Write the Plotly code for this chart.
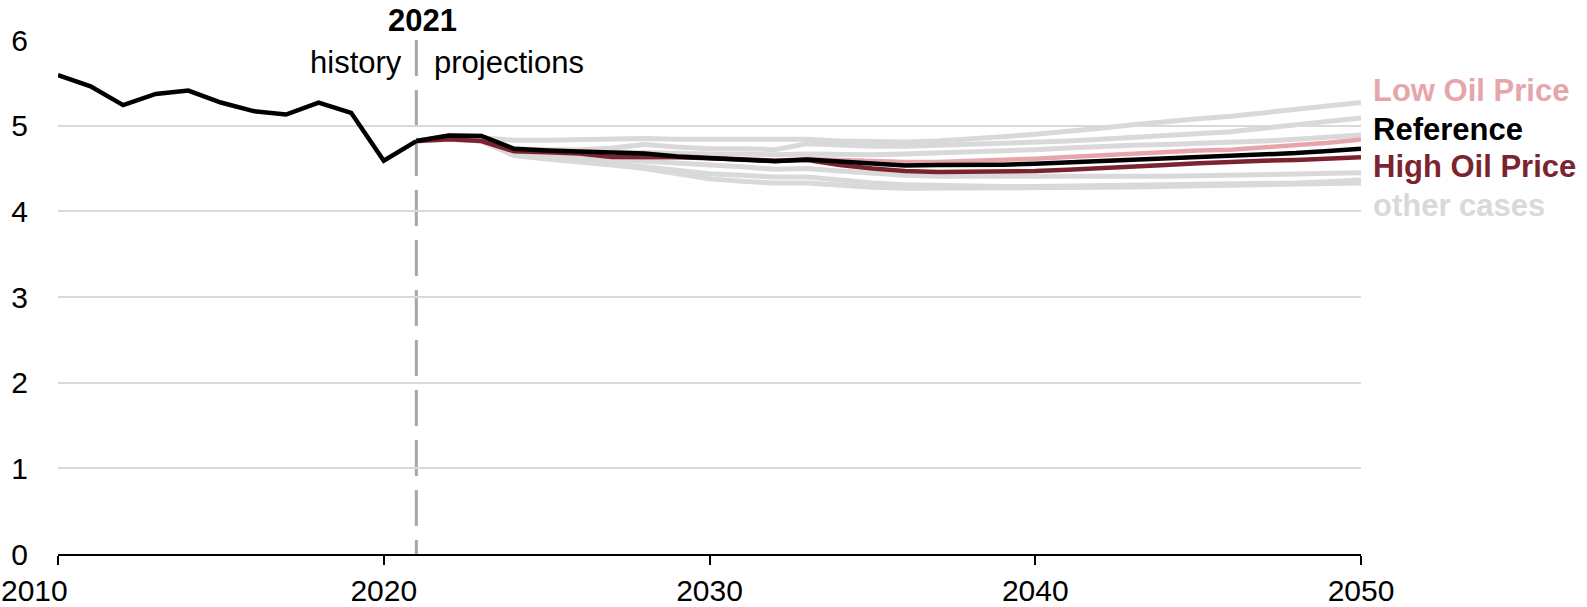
import plotly.graph_objects as go

years_hist = list(range(2010, 2022))
hist = [5.59, 5.46, 5.24, 5.37, 5.41, 5.27, 5.17, 5.13, 5.27, 5.15, 4.59, 4.82]

years_proj = list(range(2021, 2051))
reference = [4.82, 4.885, 4.88, 4.73, 4.71, 4.70, 4.68, 4.675, 4.64, 4.62,
             4.605, 4.585, 4.605, 4.58, 4.55, 4.535, 4.54, 4.54, 4.545, 4.555,
             4.57, 4.585, 4.595, 4.61, 4.625, 4.64, 4.66, 4.68, 4.705, 4.73]
low_oil = [4.82, 4.885, 4.88, 4.73, 4.71, 4.70, 4.68, 4.675, 4.645, 4.625,
           4.61, 4.59, 4.61, 4.60, 4.58, 4.575, 4.575, 4.585, 4.605, 4.615,
           4.635, 4.655, 4.68, 4.70, 4.71, 4.72, 4.745, 4.77, 4.80, 4.84]
high_oil = [4.82, 4.84, 4.82, 4.70, 4.69, 4.675, 4.635, 4.635, 4.63, 4.62,
            4.605, 4.59, 4.60, 4.54, 4.50, 4.47, 4.46, 4.46, 4.46, 4.47,
            4.485, 4.50, 4.52, 4.54, 4.56, 4.58, 4.59, 4.60, 4.615, 4.63]
other_cases = [
    [4.82, 4.87, 4.86, 4.83, 4.83, 4.84, 4.84, 4.85, 4.84, 4.84,
     4.84, 4.84, 4.84, 4.82, 4.81, 4.81, 4.82, 4.84, 4.87, 4.90,
     4.93, 4.97, 5.01, 5.05, 5.08, 5.11, 5.15, 5.19, 5.23, 5.27],
    [4.82, 4.87, 4.86, 4.73, 4.72, 4.72, 4.74, 4.78, 4.75, 4.73,
     4.73, 4.72, 4.79, 4.77, 4.76, 4.76, 4.77, 4.78, 4.80, 4.81,
     4.82, 4.84, 4.86, 4.89, 4.91, 4.93, 4.97, 5.01, 5.05, 5.09],
    [4.82, 4.86, 4.85, 4.72, 4.71, 4.70, 4.69, 4.69, 4.68, 4.67,
     4.67, 4.66, 4.67, 4.66, 4.66, 4.67, 4.68, 4.69, 4.70, 4.72,
     4.74, 4.76, 4.77, 4.78, 4.79, 4.80, 4.82, 4.84, 4.86, 4.89],
    [4.82, 4.85, 4.84, 4.68, 4.65, 4.63, 4.60, 4.58, 4.56, 4.55,
     4.52, 4.49, 4.50, 4.47, 4.44, 4.42, 4.41, 4.41, 4.40, 4.40,
     4.40, 4.40, 4.41, 4.41, 4.415, 4.42, 4.425, 4.43, 4.44, 4.45],
    [4.82, 4.84, 4.82, 4.66, 4.62, 4.59, 4.55, 4.52, 4.48, 4.44,
     4.42, 4.40, 4.40, 4.36, 4.33, 4.31, 4.30, 4.30, 4.29, 4.29,
     4.295, 4.30, 4.30, 4.30, 4.305, 4.31, 4.32, 4.33, 4.345, 4.365],
    [4.82, 4.84, 4.82, 4.65, 4.61, 4.58, 4.54, 4.50, 4.44, 4.38,
     4.35, 4.33, 4.33, 4.30, 4.28, 4.27, 4.27, 4.27, 4.27, 4.27,
     4.275, 4.28, 4.285, 4.29, 4.295, 4.30, 4.305, 4.31, 4.32, 4.33],
]

x_ticks = [2010, 2020, 2030, 2040, 2050]
y_ticks = [0, 1, 2, 3, 4, 5, 6]

GRAY = "#d9d9d9"
PINK = "#e6a5ab"
DARKRED = "#7b2430"
FONT = "Liberation Sans, Arial, sans-serif"
TICK_SIZE = 30
ANN_SIZE = 31
LAB_SIZE = 31

fig = go.Figure()

for oc in other_cases:
    fig.add_trace(go.Scatter(x=years_proj, y=oc, mode="lines",
                             line=dict(color=GRAY, width=5), hoverinfo="skip",
                             showlegend=False))

fig.add_trace(go.Scatter(x=years_proj, y=low_oil, mode="lines",
                         line=dict(color=PINK, width=4.5), showlegend=False))
fig.add_trace(go.Scatter(x=years_proj, y=high_oil, mode="lines",
                         line=dict(color=DARKRED, width=4.5), showlegend=False))
fig.add_trace(go.Scatter(x=years_proj, y=reference, mode="lines",
                         line=dict(color="black", width=4.5), showlegend=False))
fig.add_trace(go.Scatter(x=years_hist, y=hist, mode="lines",
                         line=dict(color="black", width=4.5), showlegend=False))

# history / projections divider
fig.add_shape(type="line", x0=2021, x1=2021, y0=6, y1=0, xref="x", yref="y",
              line=dict(color="#a6a6a6", width=3, dash="36px,14px"), layer="below")

annotations = [
    dict(x=2021, y=1.0, yref="paper", xref="x", text="<b>2021</b>",
         showarrow=False, yanchor="middle", yshift=20, xshift=6,
         font=dict(size=ANN_SIZE, color="black")),
    dict(x=2021, y=5.743, xref="x", yref="y", text="history", showarrow=False,
         xanchor="right", xshift=-12, font=dict(size=ANN_SIZE, color="black")),
    dict(x=2021, y=5.743, xref="x", yref="y", text="projections", showarrow=False,
         xanchor="left", xshift=16, font=dict(size=ANN_SIZE, color="black")),
    dict(x=2050, y=5.416, xref="x", yref="y", text="<b>Low Oil Price</b>", showarrow=False,
         xanchor="left", xshift=10, font=dict(size=LAB_SIZE, color=PINK)),
    dict(x=2050, y=4.955, xref="x", yref="y", text="<b>Reference</b>", showarrow=False,
         xanchor="left", xshift=10, font=dict(size=LAB_SIZE, color="black")),
    dict(x=2050, y=4.529, xref="x", yref="y", text="<b>High Oil Price</b>", showarrow=False,
         xanchor="left", xshift=10, font=dict(size=LAB_SIZE, color=DARKRED)),
    dict(x=2050, y=4.068, xref="x", yref="y", text="<b>other cases</b>", showarrow=False,
         xanchor="left", xshift=10, font=dict(size=LAB_SIZE, color=GRAY)),
    # first x tick label sits flush with the left edge
    dict(x=0, y=0, xref="paper", yref="paper", text=str(x_ticks[0]), showarrow=False,
         xanchor="left", yanchor="middle", xshift=-59, yshift=-36,
         font=dict(size=TICK_SIZE, color="black")),
]

fig.update_layout(
    width=1587, height=607,
    margin=dict(l=58, r=226, t=40, b=53),
    paper_bgcolor="white", plot_bgcolor="white",
    font=dict(family=FONT, size=TICK_SIZE, color="black"),
    annotations=annotations,
    xaxis=dict(range=[2010, 2050], tickvals=x_ticks,
               ticktext=[""] + [str(v) for v in x_ticks[1:]],
               showgrid=False, zeroline=False, showline=True, linecolor="black",
               linewidth=2, ticks="outside", ticklen=9, tickwidth=1.5, tickcolor="black",
               automargin=False,
               tickfont=dict(size=TICK_SIZE, color="black")),
    yaxis=dict(range=[0, 6], tickvals=y_ticks, showgrid=True, gridcolor=GRAY,
               gridwidth=2, zeroline=False, showline=False, ticks="",
               automargin=False,
               ticklabelstandoff=29, tickfont=dict(size=TICK_SIZE, color="black")),
    showlegend=False,
)

fig.write_html("out.html", config={"displayModeBar": False},
               post_script="document.body.style.margin='0px';")
